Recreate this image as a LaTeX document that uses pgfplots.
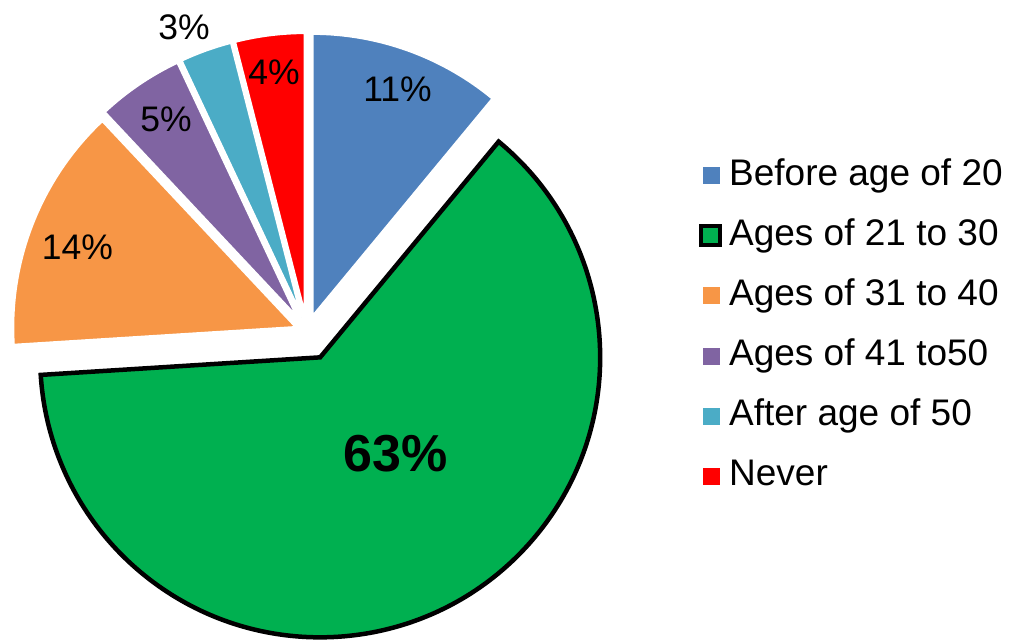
\documentclass[border=0pt]{standalone}
\usepackage{pgfplots}
\pgfplotsset{compat=1.18}
\usepackage{pgfplotstable}
\usepackage{fontspec}
\setmainfont{Liberation Sans}

\definecolor{sliceblue}{HTML}{4F81BD}
\definecolor{slicegreen}{HTML}{00B050}
\definecolor{sliceorange}{HTML}{F79646}
\definecolor{slicepurple}{HTML}{8064A2}
\definecolor{sliceteal}{HTML}{4BACC6}
\definecolor{slicered}{HTML}{FF0000}

% share (%), explode distance, radius, fill, outline, outline width,
% label position and label style, clockwise from 12 o'clock
\pgfplotstableread[col sep=comma]{
value,explode,radius,fillc,drawc,lw,lx,ly,lstyle
11,15,284,sliceblue,white,3,397.5,550,pctlabel
63,29,280,slicegreen,black,4.5,395.5,185,pctbig
14,11,284,sliceorange,white,3,77.5,391.5,pctlabel
5,15,284,slicepurple,white,3,166,519.5,pctlabel
3,15,284,sliceteal,white,3,184,612,pctlabel
4,15,284,slicered,white,3,274,567,pctlabel
}\piedata

\tikzset{
  pctlabel/.style={font=\fontsize{35.5bp}{40bp}\selectfont, inner sep=0pt},
  pctbig/.style={font=\fontsize{52bp}{60bp}\selectfont\bfseries, inner sep=0pt},
}

\def\cx{307}
\def\cy{307.5}

\begin{document}
\begin{tikzpicture}
\begin{axis}[
  width=1010bp, height=639bp, scale only axis,
  xmin=0, xmax=1010, ymin=0, ymax=639,
  hide axis, clip=false,
  legend cell align=left,
  legend style={
    at={(axis cs:699.25,479.5)}, anchor=north west,
    draw=none, fill=none, inner sep=0pt,
    font=\fontsize{37bp}{42bp}\selectfont,
    nodes={inner sep=0pt, text height=26bp, text depth=9bp},
    row sep=25bp, column sep=7.2bp,
  },
]
\pgfplotstablegetrowsof{\piedata}
\pgfmathtruncatemacro\lastrow{\pgfplotsretval-1}
\def\cumshare{0}
\pgfplotsforeachungrouped \i in {0,...,\lastrow}{%
  \pgfplotstablegetelem{\i}{value}\of\piedata \let\share\pgfplotsretval
  \pgfplotstablegetelem{\i}{explode}\of\piedata \let\ex\pgfplotsretval
  \pgfplotstablegetelem{\i}{radius}\of\piedata \let\rad\pgfplotsretval
  \pgfplotstablegetelem{\i}{fillc}\of\piedata \let\fillc\pgfplotsretval
  \pgfplotstablegetelem{\i}{drawc}\of\piedata \let\drawc\pgfplotsretval
  \pgfplotstablegetelem{\i}{lw}\of\piedata \let\lwid\pgfplotsretval
  \pgfplotstablegetelem{\i}{lx}\of\piedata \let\lx\pgfplotsretval
  \pgfplotstablegetelem{\i}{ly}\of\piedata \let\ly\pgfplotsretval
  \pgfplotstablegetelem{\i}{lstyle}\of\piedata \let\lst\pgfplotsretval
  \pgfmathsetmacro\angA{90-3.6*\cumshare}
  \pgfmathsetmacro\angB{90-3.6*(\cumshare+\share)}
  \pgfmathsetmacro\angM{(\angA+\angB)/2}
  \pgfmathsetmacro\vx{\cx+\ex*cos(\angM)}
  \pgfmathsetmacro\vy{\cy+\ex*sin(\angM)}
  \edef\slice{\noexpand\filldraw[fill=\fillc, draw=\drawc, line width=\lwid bp, line join=miter]
    (axis cs:\vx,\vy) -- ++(\angA:\rad bp)
    arc[start angle=\angA, end angle=\angB, radius=\rad bp] -- cycle;}
  \slice
  \edef\lab{\noexpand\node[\lst] at (axis cs:\lx,\ly) {\share\noexpand\%};}
  \lab
  \pgfmathsetmacro\cumshare{\cumshare+\share}
}

\addlegendimage{legend image code/.code={\fill[sliceblue] (0bp,-6.5bp) rectangle (16bp,9.5bp);}}
\addlegendentry{Before age of 20}
\addlegendimage{legend image code/.code={\filldraw[fill=slicegreen, draw=black, line width=4bp] (-1.25bp,-7.75bp) rectangle (17.25bp,10.75bp);}}
\addlegendentry{Ages of 21 to 30}
\addlegendimage{legend image code/.code={\fill[sliceorange] (0bp,-6.5bp) rectangle (16bp,9.5bp);}}
\addlegendentry{Ages of 31 to 40}
\addlegendimage{legend image code/.code={\fill[slicepurple] (0bp,-6.5bp) rectangle (16bp,9.5bp);}}
\addlegendentry{Ages of 41 to50}
\addlegendimage{legend image code/.code={\fill[sliceteal] (0bp,-6.5bp) rectangle (16bp,9.5bp);}}
\addlegendentry{After age of 50}
\addlegendimage{legend image code/.code={\fill[slicered] (0bp,-6.5bp) rectangle (16bp,9.5bp);}}
\addlegendentry{Never}
\end{axis}
% the picture is exactly the axis rectangle
\pgfresetboundingbox
\path[use as bounding box] (current axis.south west) rectangle (current axis.north east);
\end{tikzpicture}
\end{document}
